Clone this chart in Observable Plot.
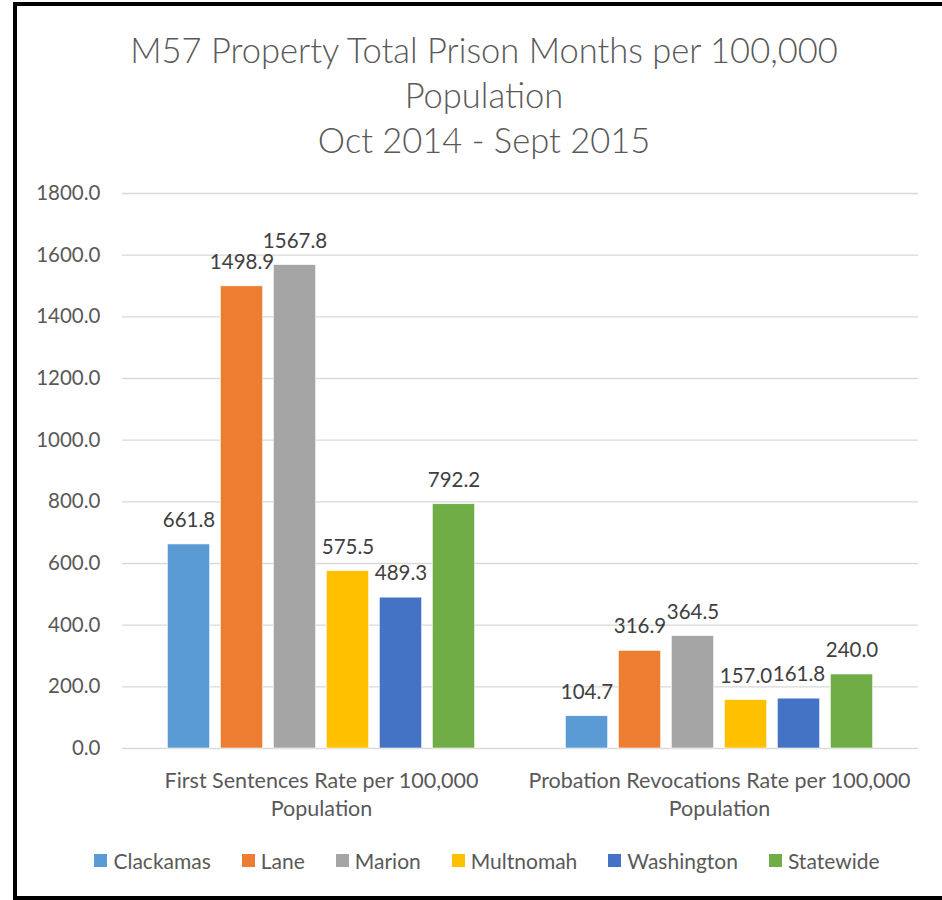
<!DOCTYPE html>
<html>
<head>
<meta charset="utf-8">
<script src="https://cdn.jsdelivr.net/npm/d3@7"></script>
<script src="https://cdn.jsdelivr.net/npm/@observablehq/plot@0.6"></script>
<style>
  html, body { margin: 0; padding: 0; background: #fff; width: 942px; height: 900px; overflow: hidden; }
  body { position: relative; font-family: Lato, "Open Sans", sans-serif; }
  #frame { position: absolute; left: 13px; top: 2px; width: 960px; height: 890px; border: 4px solid #000; box-sizing: content-box; }
  #title { position: absolute; left: 17px; width: 934px; top: 27px; text-align: center; font-size: 34.5px; line-height: 45px; color: #595959; font-weight: 300; }
  #chart { position: absolute; left: 0; top: 170px; }
  #legend { position: absolute; left: 17px; width: 940px; top: 848px; display: flex; justify-content: center; gap: 31px; font-size: 21px; color: #595959; }
  .item { display: flex; align-items: center; }
  .sw { width: 13px; height: 13px; margin-right: 6px; }
</style>
</head>
<body>
<div id="frame"></div>
<div id="title">M57 Property Total Prison Months per 100,000<br>Population<br>Oct 2014 - Sept 2015</div>
<div id="chart"></div>
<div id="legend"></div>
<script>
const categories = ["First Sentences Rate per 100,000 Population", "Probation Revocations Rate per 100,000 Population"];
const counties = ["Clackamas", "Lane", "Marion", "Multnomah", "Washington", "Statewide"];
const firstSentences = [661.8, 1498.9, 1567.8, 575.5, 489.3, 792.2];
const probationRevocations = [104.7, 316.9, 364.5, 157.0, 161.8, 240.0];
const colors = ["#5b9bd5", "#ed7d31", "#a5a5a5", "#ffc000", "#4472c4", "#70ad47"];
const yTicks = [0, 200, 400, 600, 800, 1000, 1200, 1400, 1600, 1800];

const seriesByCategory = [firstSentences, probationRevocations];
const data = [];
categories.forEach((c, i) => counties.forEach((k, j) => data.push({category: c, county: k, value: seriesByCategory[i][j]})));

const chart = Plot.plot({
  width: 942,
  height: 680,
  marginLeft: 122,
  marginRight: 24,
  marginTop: 23,
  marginBottom: 102,
  style: {color: "#595959", fontFamily: "Lato, 'Open Sans', sans-serif", background: "transparent"},
  fx: {domain: categories, padding: 0, round: false},
  x: {domain: counties, paddingInner: 0.2, paddingOuter: 0.855, round: false, axis: null},
  y: {domain: [0, 1800]},
  color: {domain: counties, range: colors},
  marks: [
    Plot.gridY(yTicks, {stroke: "#d9d9d9", strokeOpacity: 1, strokeWidth: 1.3}),
    Plot.barY(data, {fx: "category", x: "county", y: "value", fill: "county", stroke: "#fff", strokeWidth: 0.6}),
    Plot.text(data, {fx: "category", x: "county", y: "value", text: d => d.value.toFixed(1), dy: -24, fontSize: 20.5, fill: "#404040"}),
    Plot.axisY(yTicks, {tickFormat: d => d.toFixed(1), tickSize: 0, tickPadding: 22, fontSize: 20.5, label: null}),
    Plot.axisFx({anchor: "bottom", tickSize: 0, tickPadding: 20, fontSize: 21.5, lineHeight: 1.3, label: null,
      tickFormat: d => d.replace(" Population", "\nPopulation")})
  ]
});
document.getElementById("chart").appendChild(chart);

const legend = document.getElementById("legend");
counties.forEach((k, i) => {
  const it = document.createElement("div");
  it.className = "item";
  const sw = document.createElement("div");
  sw.className = "sw";
  sw.style.background = colors[i];
  const t = document.createElement("span");
  t.textContent = k;
  it.appendChild(sw); it.appendChild(t);
  legend.appendChild(it);
});
</script>
</body>
</html>
